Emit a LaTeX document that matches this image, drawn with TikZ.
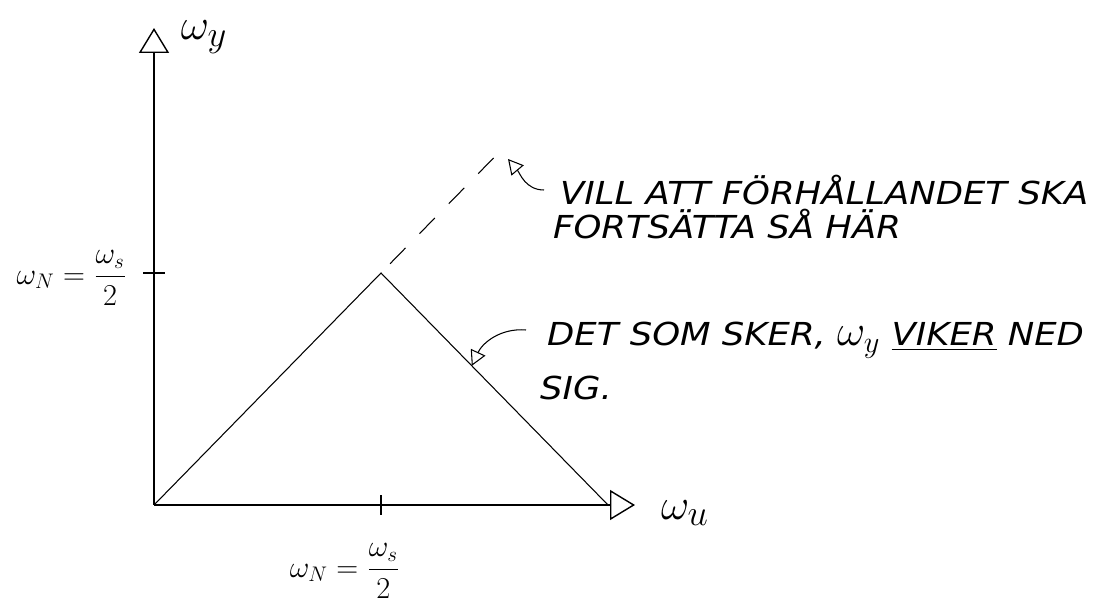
\documentclass[tikz,border=0pt]{standalone}
\usepackage{amsmath}
\usepackage{fontspec}
\setsansfont{DejaVu Sans}[FakeStretch=1.12]
\usepackage{tikz}
\usetikzlibrary{arrows.meta, calc}
\newcommand{\wN}{\omega_N}
\newcommand{\wS}{\omega_s}
\newcommand{\notefont}{\sffamily\itshape\fontsize{18}{22}\selectfont}

\begin{document}
\begin{tikzpicture}[
    axis/.style={thick, -{Triangle[open, length=5mm, width=6mm]}},
    pointer/.style={semithick, -{Triangle[open, length=3mm, width=3.2mm]}},
    remark/.style={font=\notefont, anchor=west},
    biglab/.style={font=\fontsize{28}{32}\selectfont},
    ticklab/.style={font=\fontsize{18}{22}\selectfont}
  ]
  \useasboundingbox (0,0) rectangle (22.06,12.04);

  % Points
  \coordinate (O) at (3.08,1.94);
  \coordinate (P) at (7.62,6.58);
  \coordinate (R) at (12.16,1.94);
  \coordinate (D) at ($(O)!1.55!(P)$);
  \coordinate (ytip) at (3.08,11.48);
  \coordinate (xtip) at (12.7,1.94);
  \coordinate (ytick) at (3.08,6.58);
  \coordinate (xtick) at (7.62,1.94);

  % Axes
  \draw[axis] (O) -- (ytip);
  \draw[axis] (O) -- (xtip);
  \draw[thick] ([xshift=-2.2mm]ytick) -- ([xshift=2.2mm]ytick);
  \draw[thick] ([yshift=-2mm]xtick) -- ([yshift=2mm]xtick);

  % Triangle
  \draw[semithick] (O) -- (P) -- (R);
  \draw[semithick, dash pattern=on 4.4mm off 4mm, dash phase=5.8mm] (P) -- (D);

  % Labels
  \node[biglab] (ylab) at (4.08,11.3) {$\omega_y$};
  \node[biglab] (xlab) at (13.7,1.78) {$\omega_u$};
  \node[ticklab, anchor=east] (ntop) at (2.66,6.48) {$\wN = \dfrac{\wS}{2}$};
  \node[ticklab] (nbot) at (6.9,0.62) {$\wN = \dfrac{\wS}{2}$};

  % Remarks
  \node[remark] (wishA) at (11.08,8.24) {VILL ATT FÖRHÅLLANDET SKA};
  \node[remark] (wishB) at (10.94,7.55) {FORTSÄTTA SÅ HÄR};
  \node[remark] (sawA) at (10.82,5.24) {DET SOM SKER, {\fontsize{24}{26}\selectfont$\omega_y$} \underline{VIKER} NED};
  \node[remark] (sawB) at (10.68,4.28) {SIG.};

  \coordinate (aim) at (10.16,8.86);
  \coordinate (hit) at ($(P)!0.4!(R)$);
  \draw[pointer] ([xshift=-2mm]wishA.west) to[out=180, in=-50] (aim);
  \draw[pointer] ([xshift=-3mm, yshift=2mm]sawA.west) to[out=175, in=65] (hit);
\end{tikzpicture}
\end{document}
